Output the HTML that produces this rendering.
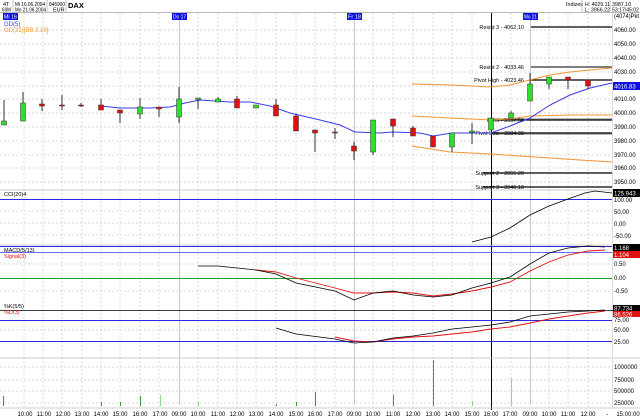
<!DOCTYPE html>
<html><head><meta charset="utf-8"><style>
html,body{margin:0;padding:0;background:#fff;}
svg{display:block;font-family:"Liberation Sans",sans-serif;}
</style></head><body>
<svg width="640" height="420" viewBox="0 0 640 420" xmlns="http://www.w3.org/2000/svg">
<rect width="640" height="420" fill="#fff"/>
<!-- header -->
<g font-size="5.5" fill="#000">
<text x="3" y="6">4T</text>
<text x="15" y="6" textLength="30" lengthAdjust="spacingAndGlyphs">Mi 16.06.2004</text>
<text x="2" y="11.5" textLength="9" lengthAdjust="spacingAndGlyphs">60M</text><text x="15" y="11.5" textLength="31" lengthAdjust="spacingAndGlyphs">Mo 21.06.2004</text>
<text x="49" y="6" textLength="16" lengthAdjust="spacingAndGlyphs">846900</text><text x="53" y="11.5">EUR</text>
<text x="68" y="8" font-weight="bold" font-size="7.5">DAX</text>
<text x="566" y="6" textLength="17" lengthAdjust="spacingAndGlyphs">Indizes</text><text x="585" y="6" textLength="25" lengthAdjust="spacingAndGlyphs">H: 4029.11</text><text x="612" y="6" textLength="19" lengthAdjust="spacingAndGlyphs">3987.10</text>
<text x="585" y="11.5" textLength="25" lengthAdjust="spacingAndGlyphs">L: 3966.22</text><text x="612" y="11.5" textLength="27" lengthAdjust="spacingAndGlyphs">53:17/45:02</text>
</g>
<g stroke="#999" stroke-width="0.6">
<line x1="13" y1="0" x2="13" y2="12"/><line x1="47" y1="0" x2="47" y2="12"/><line x1="66" y1="0" x2="66" y2="12"/>
<line x1="582" y1="0" x2="582" y2="12"/><line x1="610" y1="0" x2="610" y2="12"/>
</g>
<line x1="0" y1="12.5" x2="640" y2="12.5" stroke="#bbb"/>
<!-- grid -->
<g stroke="#ccc" stroke-width="0.7" stroke-dasharray="2,2">
<line x1="0" y1="30" x2="612" y2="30"/><line x1="0" y1="44" x2="612" y2="44"/><line x1="0" y1="58" x2="612" y2="58"/><line x1="0" y1="72" x2="612" y2="72"/><line x1="0" y1="86" x2="612" y2="86"/><line x1="0" y1="99" x2="612" y2="99"/><line x1="0" y1="113" x2="612" y2="113"/><line x1="0" y1="127" x2="612" y2="127"/><line x1="0" y1="141" x2="612" y2="141"/><line x1="0" y1="155" x2="612" y2="155"/><line x1="0" y1="168" x2="612" y2="168"/><line x1="0" y1="182" x2="612" y2="182"/>
<line x1="0" y1="211" x2="612" y2="211"/><line x1="0" y1="223" x2="612" y2="223"/><line x1="0" y1="235" x2="612" y2="235"/>
<line x1="0" y1="264" x2="612" y2="264"/><line x1="0" y1="291" x2="612" y2="291"/>
<line x1="0" y1="330" x2="612" y2="330"/>
<line x1="0" y1="367" x2="612" y2="367"/><line x1="0" y1="380" x2="612" y2="380"/><line x1="0" y1="391" x2="612" y2="391"/><line x1="0" y1="403" x2="612" y2="403"/>
<line x1="24" y1="13" x2="24" y2="408"/><line x1="43" y1="13" x2="43" y2="408"/><line x1="62" y1="13" x2="62" y2="408"/><line x1="82" y1="13" x2="82" y2="408"/><line x1="101" y1="13" x2="101" y2="408"/><line x1="120" y1="13" x2="120" y2="408"/><line x1="140" y1="13" x2="140" y2="408"/><line x1="159" y1="13" x2="159" y2="408"/>
<line x1="198" y1="13" x2="198" y2="408"/><line x1="218" y1="13" x2="218" y2="408"/><line x1="237" y1="13" x2="237" y2="408"/><line x1="256" y1="13" x2="256" y2="408"/><line x1="276" y1="13" x2="276" y2="408"/><line x1="296" y1="13" x2="296" y2="408"/><line x1="315" y1="13" x2="315" y2="408"/><line x1="335" y1="13" x2="335" y2="408"/>
<line x1="373" y1="13" x2="373" y2="408"/><line x1="393" y1="13" x2="393" y2="408"/><line x1="413" y1="13" x2="413" y2="408"/><line x1="433" y1="13" x2="433" y2="408"/><line x1="452" y1="13" x2="452" y2="408"/><line x1="472" y1="13" x2="472" y2="408"/><line x1="511" y1="13" x2="511" y2="408"/>
<line x1="549" y1="13" x2="549" y2="408"/><line x1="568" y1="13" x2="568" y2="408"/><line x1="588" y1="13" x2="588" y2="408"/>
</g>
<g stroke="#bbb" stroke-width="0.8">
<line x1="179.5" y1="13" x2="179.5" y2="405"/><line x1="354.5" y1="13" x2="354.5" y2="405"/><line x1="530.5" y1="13" x2="530.5" y2="405"/>
</g>
<line x1="491.5" y1="13" x2="491.5" y2="410" stroke="#000" stroke-width="1"/>
<!-- panel separators -->
<g stroke="#bbb" stroke-width="0.8">
<line x1="0" y1="190" x2="640" y2="190"/><line x1="0" y1="245" x2="640" y2="245"/><line x1="0" y1="358" x2="640" y2="358"/><line x1="0" y1="408" x2="640" y2="408"/>
</g>
<line x1="612.5" y1="13" x2="612.5" y2="408" stroke="#ddd"/>
<!-- pivot lines -->
<g stroke="#000" stroke-width="1.2">
<line x1="531" y1="27" x2="612" y2="27"/><line x1="531" y1="80" x2="612" y2="80"/><line x1="491" y1="120" x2="612" y2="120"/><line x1="491" y1="133" x2="612" y2="133"/><line x1="483" y1="173" x2="612" y2="173"/><line x1="483" y1="187" x2="612" y2="187"/>
</g>
<line x1="531" y1="67" x2="612" y2="67" stroke="#555" stroke-width="1.6"/>
<line x1="491" y1="119" x2="612" y2="119" stroke="#777" stroke-width="1"/>
<line x1="491" y1="134" x2="612" y2="134" stroke="#777" stroke-width="1"/>
<g font-size="5.5" fill="#000" text-anchor="end">
<text x="524" y="29">Resist 3 - 4062.10</text><text x="524" y="69">Resist 2 - 4033.46</text><text x="524" y="82">Pivot High - 4023.46</text>
<text x="524" y="122">Pivot - 3997.94</text><text x="524" y="135">Pivot Low - 3984.02</text><text x="524" y="175">Support 2 - 3955.20</text><text x="524" y="189">Support 3 - 3946.18</text>
</g>
<!-- bands -->
<g fill="none" stroke="#f39530" stroke-width="1">
<polyline points="412,84 450,85 491,87 510,85 530,80 550,75 570,72 590,70 612,68"/>
<polyline points="412,116 450,118 491,120 510,119 530,116 570,115 612,115"/>
<polyline points="412,146 450,152 491,154 520,156 550,158 580,160 612,162"/>
</g>
<polyline fill="none" stroke="#3a3ae8" stroke-width="1" points="101,106 120,108 150,108 170,107 185,103 200,100 230,102 250,102 270,106 290,113 320,120 340,125 355,132 380,133 393,132 420,133 433,136 452,133 470,133 491,133 510,126 530,118 550,105 570,95 590,88 612,83"/>
<!-- candles -->
<g stroke="#000" stroke-width="0.8">
<line x1="4" y1="100" x2="4" y2="125"/><line x1="23" y1="92" x2="23" y2="121"/><line x1="42" y1="99" x2="42" y2="111"/><line x1="62" y1="95" x2="62" y2="110"/><line x1="81" y1="103" x2="81" y2="107"/><line x1="101" y1="99" x2="101" y2="110"/><line x1="120" y1="110" x2="120" y2="123"/><line x1="140" y1="98" x2="140" y2="119"/><line x1="159" y1="107" x2="159" y2="117"/><line x1="179" y1="87" x2="179" y2="123"/><line x1="198" y1="98" x2="198" y2="109"/><line x1="218" y1="97" x2="218" y2="102"/><line x1="237" y1="96" x2="237" y2="108"/><line x1="256" y1="105" x2="256" y2="108"/><line x1="276" y1="99" x2="276" y2="116"/><line x1="296" y1="114" x2="296" y2="131"/><line x1="315" y1="130" x2="315" y2="152"/><line x1="335" y1="128" x2="335" y2="139"/><line x1="354" y1="142" x2="354" y2="160"/><line x1="373" y1="120" x2="373" y2="155"/><line x1="393" y1="119" x2="393" y2="137"/><line x1="413" y1="126" x2="413" y2="136"/><line x1="433" y1="136" x2="433" y2="147"/><line x1="452" y1="133" x2="452" y2="152"/><line x1="472" y1="123" x2="472" y2="144"/><line x1="491" y1="118" x2="491" y2="130"/><line x1="511" y1="111" x2="511" y2="118"/><line x1="530" y1="73" x2="530" y2="101"/><line x1="549" y1="77" x2="549" y2="89"/><line x1="568" y1="77" x2="568" y2="89"/><line x1="588" y1="80" x2="588" y2="89"/>
</g>
<g stroke="#333" stroke-width="0.5">
<rect x="1.5" y="121" width="5" height="4" fill="#2ee02e"/>
<rect x="20.5" y="103" width="5" height="18" fill="#2ee02e"/>
<rect x="39.5" y="104" width="5" height="2" fill="#e01010"/>
<rect x="59.5" y="105" width="5" height="1" fill="#e01010"/>
<rect x="78.5" y="105" width="5" height="1" fill="#e01010"/>
<rect x="98.5" y="105" width="5" height="5" fill="#e01010"/>
<rect x="117.5" y="110" width="5" height="3" fill="#e01010"/>
<rect x="137.5" y="107" width="5" height="7" fill="#2ee02e"/>
<rect x="156.5" y="107" width="5" height="2" fill="#e01010"/>
<rect x="176.5" y="99" width="5" height="18" fill="#2ee02e"/>
<rect x="195.5" y="98" width="5" height="1.5" fill="#2ee02e"/>
<rect x="215.5" y="99" width="5" height="3" fill="#2ee02e"/>
<rect x="234.5" y="99" width="5" height="9" fill="#e01010"/>
<rect x="253.5" y="105" width="5" height="3" fill="#2ee02e"/>
<rect x="273.5" y="105" width="5" height="11" fill="#e01010"/>
<rect x="293.5" y="116" width="5" height="15" fill="#e01010"/>
<rect x="312.5" y="130" width="5" height="3" fill="#e01010"/>
<rect x="332.5" y="132" width="5" height="1" fill="#e01010"/>
<rect x="351.5" y="146" width="5" height="5" fill="#e01010"/>
<rect x="370.5" y="120" width="5" height="32" fill="#2ee02e"/>
<rect x="390.5" y="119" width="5" height="7" fill="#e01010"/>
<rect x="410.5" y="128" width="5" height="8" fill="#e01010"/>
<rect x="430.5" y="136" width="5" height="11" fill="#e01010"/>
<rect x="449.5" y="133" width="5" height="14" fill="#2ee02e"/>
<rect x="469.5" y="131" width="5" height="1.5" fill="#2ee02e"/>
<rect x="488.5" y="118" width="5" height="12" fill="#2ee02e"/>
<rect x="508.5" y="113" width="5" height="5" fill="#2ee02e"/>
<rect x="527.5" y="84" width="5" height="17" fill="#2ee02e"/>
<rect x="546.5" y="77" width="5" height="7" fill="#2ee02e"/>
<rect x="565.5" y="77" width="5" height="3" fill="#e01010"/>
<rect x="585.5" y="80" width="5" height="6" fill="#e01010"/>
</g>
<!-- day tags -->
<g font-size="5.5" fill="#fff">
<rect x="3" y="13" width="15" height="7" fill="#1010e0"/><text x="4" y="18.5" textLength="13" lengthAdjust="spacingAndGlyphs">Mi 16</text>
<rect x="172" y="13" width="15" height="7" fill="#1010e0"/><text x="173" y="18.5" textLength="13" lengthAdjust="spacingAndGlyphs">Do 17</text>
<rect x="347" y="13" width="15" height="7" fill="#1010e0"/><text x="348" y="18.5" textLength="13" lengthAdjust="spacingAndGlyphs">Fr 18</text>
<rect x="523" y="13" width="15" height="7" fill="#1010e0"/><text x="524" y="18.5" textLength="13" lengthAdjust="spacingAndGlyphs">Mo 21</text>
</g>
<text x="4" y="26" font-size="6" fill="#3a3ae8">GD(5)</text>
<text x="4" y="32" font-size="6" fill="#f39530">GD(21)[BB 2.10]</text>
<!-- right price axis -->
<g font-size="6" fill="#000">
<text x="614" y="18" textLength="25" lengthAdjust="spacingAndGlyphs">(4074)Pkt</text>
<text x="614" y="32">4060.00</text><text x="614" y="46">4050.00</text><text x="614" y="60">4040.00</text><text x="614" y="74">4030.00</text><text x="614" y="101">4010.00</text><text x="614" y="115">4000.00</text><text x="614" y="129">3990.00</text><text x="614" y="143">3980.00</text><text x="614" y="157">3970.00</text><text x="614" y="170">3960.00</text><text x="614" y="184">3950.00</text>
</g>
<rect x="613" y="82" width="27" height="8" fill="#1010e0"/><text x="614" y="88.5" font-size="6" fill="#fff">4016.83</text>
<!-- CCI -->
<text x="4" y="196" font-size="5.5">CCI(20)4</text>
<line x1="0" y1="199.5" x2="612" y2="199.5" stroke="#2a2ae0" stroke-width="1"/>
<polyline fill="none" stroke="#000" stroke-width="0.8" points="472,242 491,237 510,228 530,215 549,206 568,199 585,193 595,191 612,193"/>
<rect x="613" y="189" width="27" height="8" fill="#000"/><text x="614" y="195.5" font-size="6" fill="#fff">125.943</text>
<g font-size="6"><text x="614" y="202">100.00</text><text x="614" y="214">50.00</text><text x="614" y="226">0.00</text><text x="614" y="238">-50.00</text></g>
<!-- MACD -->
<line x1="0" y1="246.5" x2="612" y2="246.5" stroke="#2a2ae0" stroke-width="1"/>
<line x1="0" y1="252.5" x2="612" y2="252.5" stroke="#6a6af0" stroke-width="1"/>
<line x1="0" y1="278.5" x2="612" y2="278.5" stroke="#20a020" stroke-width="1"/>
<text x="4" y="252" font-size="5.5">MACD(5/13)</text>
<text x="4" y="258" font-size="5.5" fill="#e01010">Signal(3)</text>
<polyline fill="none" stroke="#e01010" stroke-width="0.9" points="256,270 276,272 296,278 335,288 354,293 373,293 393,292 413,293 433,296 452,294 472,291 491,287 510,282 530,271 549,262 568,255 588,251 605,250"/>
<polyline fill="none" stroke="#000" stroke-width="0.8" points="198,266 218,266 256,270 276,274 296,283 335,291 354,300 373,293 393,291 413,295 433,297 452,295 472,288 491,283 510,277 530,264 549,253 568,248 588,246 605,247"/>
<rect x="613" y="244" width="27" height="7" fill="#000"/><text x="614" y="250" font-size="6" fill="#fff">1.168</text>
<rect x="613" y="251" width="27" height="7" fill="#e01010"/><text x="614" y="257" font-size="6" fill="#fff">1.104</text>
<g font-size="6"><text x="614" y="266">0.50</text><text x="614" y="280">0.00</text><text x="614" y="293">-0.50</text></g>
<!-- Stoch -->
<line x1="0" y1="310.5" x2="640" y2="310.5" stroke="#000" stroke-width="0.8"/>
<text x="4" y="308" font-size="5.5">%K(5/5)</text>
<text x="4" y="314" font-size="5.5" fill="#e01010">%D(3)</text>
<line x1="0" y1="320.5" x2="612" y2="320.5" stroke="#2a2ae0" stroke-width="1"/>
<line x1="0" y1="341.5" x2="612" y2="341.5" stroke="#2a2ae0" stroke-width="1"/>
<polyline fill="none" stroke="#e01010" stroke-width="0.9" points="335,337 354,341 373,342 393,339 413,337 433,336 452,334 472,332 491,329 510,327 530,323 549,319 568,316 588,313 605,311"/>
<polyline fill="none" stroke="#000" stroke-width="0.8" points="276,328 296,334 335,339 354,343 373,342 393,338 413,336 433,333 452,329 472,327 491,325 510,322 530,316 549,314 568,312 588,311 605,310"/>
<rect x="613" y="305" width="27" height="6" fill="#000"/><text x="614" y="310.5" font-size="6" fill="#fff">87.734</text>
<rect x="613" y="311" width="27" height="6" fill="#e01010"/><text x="614" y="316.5" font-size="6" fill="#fff">86.526</text>
<g font-size="6"><text x="614" y="322">75.00</text><text x="614" y="332">50.00</text><text x="614" y="344">25.00</text></g>
<!-- Volume -->
<g stroke="#3a9a3a" stroke-width="1">
<line x1="3.5" y1="396" x2="3.5" y2="406"/><line x1="101.5" y1="402" x2="101.5" y2="406"/><line x1="120.5" y1="402" x2="120.5" y2="406"/><line x1="140.5" y1="396" x2="140.5" y2="406"/><line x1="315.5" y1="392" x2="315.5" y2="406"/><line x1="276.5" y1="404" x2="276.5" y2="406"/><line x1="296.5" y1="402" x2="296.5" y2="406"/><line x1="393.5" y1="395" x2="393.5" y2="406"/><line x1="433.5" y1="360" x2="433.5" y2="406"/>
</g>
<g stroke="#90d890" stroke-width="1">
<line x1="160.5" y1="395" x2="160.5" y2="406"/><line x1="198.5" y1="402" x2="198.5" y2="406"/><line x1="472.5" y1="401" x2="472.5" y2="406"/><line x1="511.5" y1="378" x2="511.5" y2="406"/>
</g>
<g font-size="6"><text x="614" y="369">1000000</text><text x="614" y="382">750000</text><text x="614" y="393">500000</text><text x="614" y="405">250000</text></g>
<!-- x axis labels -->
<g font-size="6" text-anchor="middle">
<text x="25" y="416">10:00</text><text x="44" y="416">11:00</text><text x="63" y="416">12:00</text><text x="82" y="416">13:00</text><text x="101" y="416">14:00</text><text x="120" y="416">15:00</text><text x="140" y="416">16:00</text><text x="160" y="416">17:00</text><text x="179" y="416">09:00</text><text x="198" y="416">10:00</text><text x="218" y="416">11:00</text><text x="237" y="416">12:00</text><text x="256" y="416">13:00</text><text x="276" y="416">14:00</text><text x="296" y="416">15:00</text><text x="315" y="416">16:00</text><text x="335" y="416">17:00</text><text x="354" y="416">09:00</text><text x="373" y="416">10:00</text><text x="393" y="416">11:00</text><text x="413" y="416">12:00</text><text x="433" y="416">13:00</text><text x="452" y="416">14:00</text><text x="472" y="416">15:00</text><text x="491" y="416">16:00</text><text x="510" y="416">17:00</text><text x="530" y="416">09:00</text><text x="549" y="416">10:00</text><text x="568" y="416">11:00</text><text x="588" y="416">12:00</text><text x="607" y="416">-</text><text x="628" y="416">15:00:00</text>
</g>
</svg>
</body></html>
